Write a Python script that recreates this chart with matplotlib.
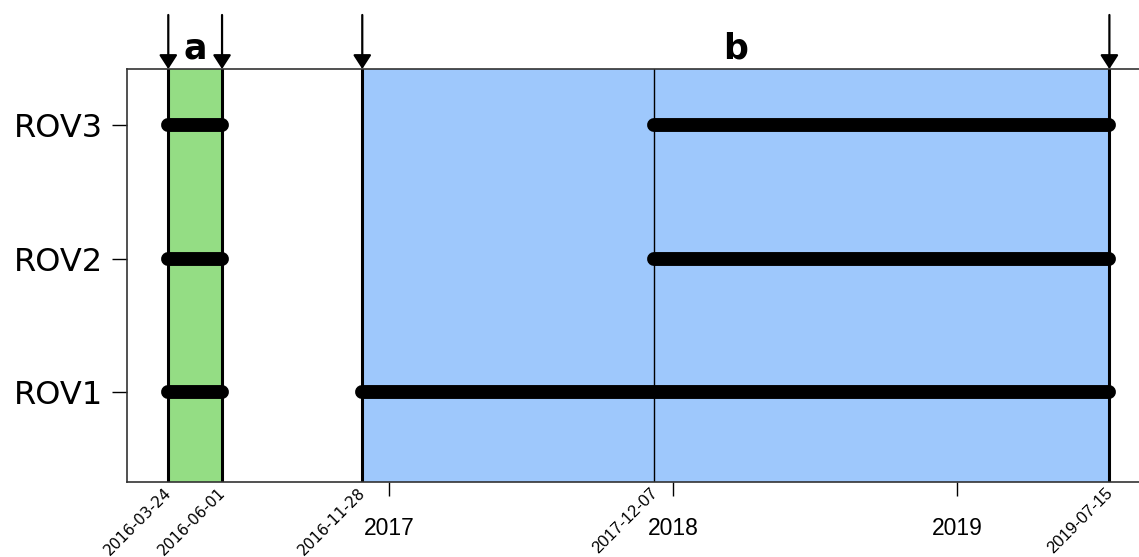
import numpy as np
import matplotlib

matplotlib.use("Agg")
import matplotlib.pyplot as plt
import matplotlib.dates as mdates

############### DATA ###############
rov_names = ["ROV1", "ROV2", "ROV3"]
rov_pos = [1, 2, 3]

# deployment segments (start, end) per ROV
seg_start = {
    "ROV1": ["2016-03-24", "2016-11-28"],
    "ROV2": ["2016-03-24", "2017-12-07"],
    "ROV3": ["2016-03-24", "2017-12-07"],
}
seg_end = {
    "ROV1": ["2016-06-01", "2019-07-15"],
    "ROV2": ["2016-06-01", "2019-07-15"],
    "ROV3": ["2016-06-01", "2019-07-15"],
}

period_labels = ["a", "b"]
period_start = ["2016-03-24", "2016-11-28"]
period_end = ["2016-06-01", "2019-07-15"]
period_colors = ["#94dd84", "#9ec8fc"]

marked_dates = ["2016-03-24", "2016-06-01", "2016-11-28", "2017-12-07", "2019-07-15"]
arrow_dates = ["2016-03-24", "2016-06-01", "2016-11-28", "2019-07-15"]
year_ticks = ["2017-01-01", "2018-01-01", "2019-01-01"]
year_labels = ["2017", "2018", "2019"]


def d(s):
    return mdates.datestr2num(s)


############### PLOT ###############
fig = plt.figure(figsize=(11.39, 5.57), dpi=100)
ax = fig.add_axes([0.1115, 0.1346, 0.8885, 0.7414])
xtrans = ax.get_xaxis_transform()

for lab, s, e, c in zip(period_labels, period_start, period_end, period_colors):
    ax.axvspan(d(s), d(e), color=c, lw=0, zorder=0)
    ax.axvline(d(s), color="black", lw=2.2, zorder=1)
    ax.axvline(d(e), color="black", lw=2.2, zorder=1)
    ax.text((d(s) + d(e)) / 2, 1.05, lab, transform=xtrans,
            ha="center", va="center", fontsize=25, fontweight="heavy",
            family="DejaVu Sans")

# thin marker at 2017-12-07
ax.axvline(d("2017-12-07"), color="black", lw=1.0, zorder=1)

for name, y in zip(rov_names, rov_pos):
    for s, e in zip(seg_start[name], seg_end[name]):
        ax.plot([d(s), d(e)], [y, y], color="black", lw=10,
                solid_capstyle="round", zorder=3)

# arrows above the axes
for a in arrow_dates:
    ax.annotate("", xy=(d(a), 1.0), xytext=(d(a), 1.131),
                xycoords=xtrans, textcoords=xtrans,
                arrowprops=dict(arrowstyle="-|>,head_length=0.85,head_width=0.55",
                                color="black", lw=1.6, shrinkA=0, shrinkB=0),
                annotation_clip=False)

# rotated date labels under the axis
for txt in marked_dates:
    if txt.startswith("2016"):
        fs, fam = 11, "DejaVu Sans"
    else:
        fs, fam = 12, "Liberation Sans"
    ax.annotate(txt, xy=(d(txt), 0), xycoords=xtrans,
                xytext=(-3, -2), textcoords="offset points",
                rotation=45, rotation_mode="anchor", ha="right", va="top",
                fontsize=fs, family=fam, annotation_clip=False)

ax.set_xlim(d("2016-01-31"), d("2019-08-22"))
ax.set_ylim(0.33, 3.42)

ax.set_yticks(rov_pos)
ax.set_yticklabels(rov_names, fontsize=23, family="DejaVu Sans")
ax.tick_params(axis="y", length=11, width=1.0, pad=6)

ax.set_xticks([d(t) for t in year_ticks])
ax.set_xticklabels(year_labels, fontsize=16.5, family="Liberation Sans")
ax.tick_params(axis="x", which="major", length=10, width=1.0, pad=15)

for side in ["left", "bottom", "top"]:
    ax.spines[side].set_color("#333333")
    ax.spines[side].set_linewidth(1.2)
ax.spines["right"].set_visible(False)

fig.savefig("out.png", dpi=100)
